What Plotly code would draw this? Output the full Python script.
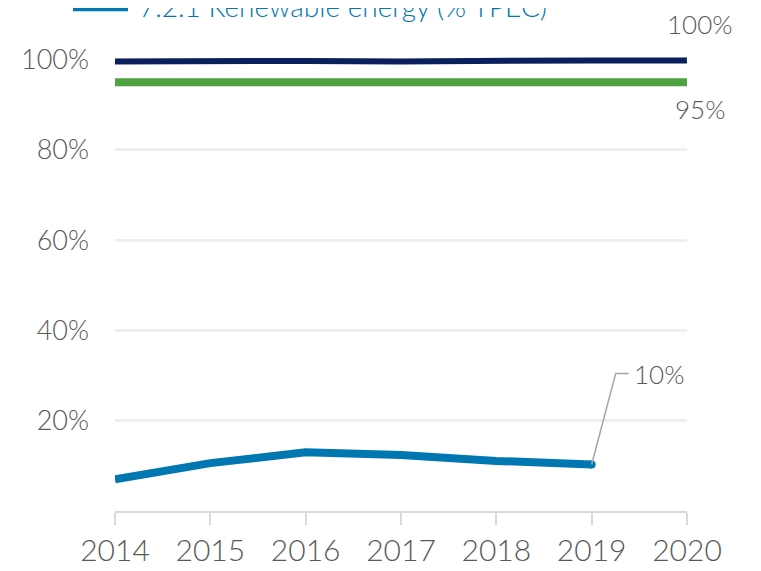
import plotly.graph_objects as go

years = [2014, 2015, 2016, 2017, 2018, 2019, 2020]
renewable_years = [2014, 2015, 2016, 2017, 2018, 2019]
renewable_share = [7.0, 10.6, 13.0, 12.4, 11.1, 10.3]
target_line = [99.6, 99.8, 99.7, 99.6, 99.8, 99.8, 99.8]
green_line = [95, 95, 95, 95, 95, 95, 95]
y_ticks = [20, 40, 60, 80, 100]
y_tick_labels = ["20%", "40%", "60%", "80%", "100%"]
legend_label = "7.2.1 Renewable energy (% TPEC)"

GRAY = "#595959"
NAVY = "#0b1f5c"
GREEN = "#4fa142"
BLUE = "#0077b0"
FONT = "Lato"
W = 300

fig = go.Figure()
fig.add_trace(go.Scatter(x=years, y=green_line, mode="lines",
                         line=dict(color=GREEN, width=8), showlegend=False, hoverinfo="skip"))
fig.add_trace(go.Scatter(x=years, y=target_line, mode="lines",
                         line=dict(color=NAVY, width=6), showlegend=False, hoverinfo="skip"))
fig.add_trace(go.Scatter(x=renewable_years, y=renewable_share, mode="lines",
                         line=dict(color=BLUE, width=8), showlegend=False, hoverinfo="skip"))
fig.add_trace(go.Scatter(x=[renewable_years[-1]], y=[renewable_share[-1]], mode="markers",
                         marker=dict(color=BLUE, size=8), showlegend=False, hoverinfo="skip",
                         cliponaxis=False))

annotations = []
shapes = []

# 100% label
annotations.append(dict(x=years[-1], y=target_line[-1], xref="x", yref="y", text="100%",
                        showarrow=False, xshift=13, yshift=36,
                        font=dict(family=FONT, size=26, color=GRAY, weight=W)))
shapes.append(dict(type="path", xref="x", yref="y", xsizemode="pixel", ysizemode="pixel",
                   xanchor=years[-1], yanchor=target_line[-1],
                   path="M 0,0 L 10,18", line=dict(color="#a6a6a6", width=1.5)))
# 95% label
annotations.append(dict(x=years[-1], y=green_line[-1], xref="x", yref="y", text="95%",
                        showarrow=False, xshift=13, yshift=-27,
                        font=dict(family=FONT, size=26, color=GRAY, weight=W)))
# 10% label
annotations.append(dict(x=renewable_years[-1], y=renewable_share[-1], xref="x", yref="y",
                        text="10%", showarrow=False, xshift=67, yshift=91,
                        font=dict(family=FONT, size=26, color=GRAY, weight=W)))
shapes.append(dict(type="path", xref="x", yref="y", xsizemode="pixel", ysizemode="pixel",
                   xanchor=renewable_years[-1], yanchor=renewable_share[-1],
                   path="M 0,0 L 24,91 L 37,91", line=dict(color="#a6a6a6", width=1.5)))

# partially visible legend at top
annotations.append(dict(x=0.0385, y=1.065, xref="paper", yref="paper", text=legend_label,
                        showarrow=False, xanchor="left", yanchor="middle",
                        font=dict(family=FONT, size=28, color=BLUE, weight=W)))
shapes.append(dict(type="line", xref="paper", yref="paper", x0=-0.0734, x1=0.0227,
                   y0=1.0587, y1=1.0587, line=dict(color=BLUE, width=4)))

fig.update_layout(
    width=761, height=571,
    margin=dict(l=107, r=82, t=29, b=62),
    paper_bgcolor="white", plot_bgcolor="white",
    showlegend=False,
    annotations=annotations,
    shapes=shapes,
    xaxis=dict(range=[2014, 2020], tickmode="array", tickvals=years,
               ticktext=[str(y) for y in years], showgrid=False, zeroline=False,
               showline=True, linecolor="#d9d9d9", linewidth=2,
               ticks="outside", ticklen=12, tickcolor="#d9d9d9", tickwidth=2,
               tickfont=dict(family=FONT, size=30, color=GRAY, weight=W)),
    yaxis=dict(range=[0, 105], tickmode="array", tickvals=y_ticks, ticktext=y_tick_labels,
               showgrid=True, gridcolor="#efefef", gridwidth=3, zeroline=False,
               showline=False, ticks="", ticklabelstandoff=25,
               tickfont=dict(family=FONT, size=27, color=GRAY, weight=W)),
)

fig.write_html("out.html")
